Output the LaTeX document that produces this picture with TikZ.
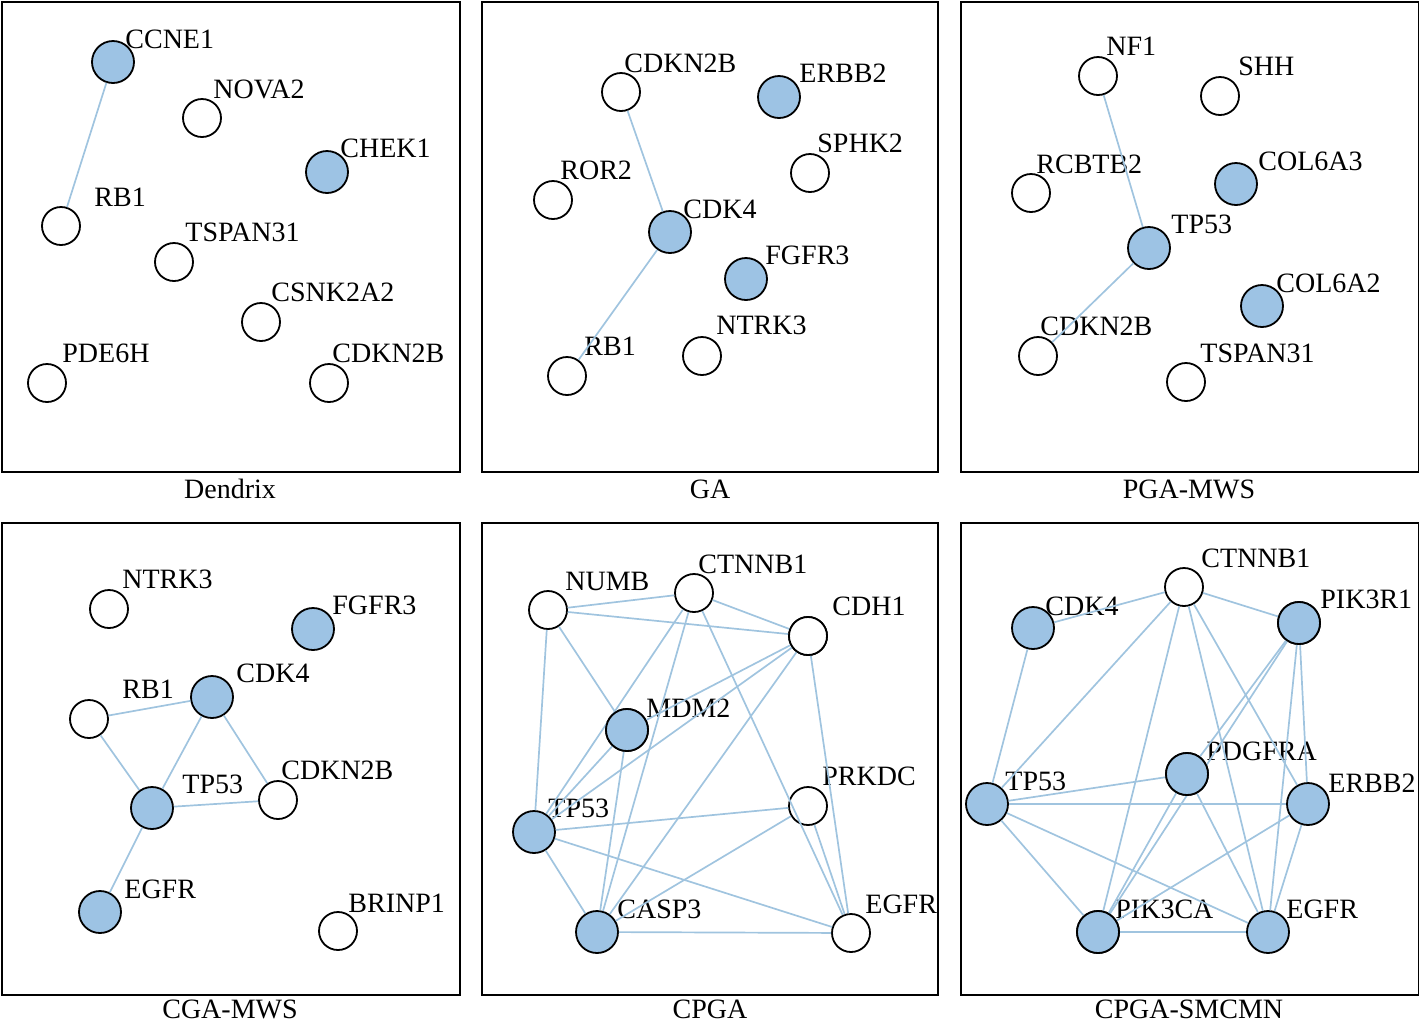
\documentclass[tikz,border=0pt]{standalone}
\usepackage{fontspec}
\setmainfont{Liberation Serif}
\definecolor{nfill}{RGB}{157,195,228}
\definecolor{ecol}{RGB}{160,196,223}
\tikzset{
 gw/.style={circle,draw=black,line width=0.9pt,fill=white,minimum size=19pt,inner sep=0pt},
 gb/.style={gw,fill=nfill,minimum size=21pt},
 lab/.style={anchor=base west,inner sep=0pt,font=\fontsize{14pt}{16pt}\selectfont},
 ttl/.style={anchor=base,inner sep=0pt,font=\fontsize{14pt}{16pt}\selectfont},
 panel/.style={draw=black,line width=1pt},
 edge/.style={draw=ecol,line width=0.85pt}
}
\newcommand\gn[7]{\node[#4] (#1) at (#2,#3) {};\node[lab] (#1l) at (#5,#6) {#7};}
\begin{document}
\begin{tikzpicture}[x=0.5pt,y=-0.5pt]
\useasboundingbox (0,0) rectangle (1419,1024);
% frames
\node[panel,draw,minimum width=229pt,minimum height=235pt,inner sep=0pt,anchor=north west] (f1) at (1,1) {};
\node[panel,draw,minimum width=228pt,minimum height=235pt,inner sep=0pt,anchor=north west] (f2) at (481,1) {};
\node[panel,draw,minimum width=229pt,minimum height=235pt,inner sep=0pt,anchor=north west] (f3) at (960,1) {};
\node[panel,draw,minimum width=229pt,minimum height=236pt,inner sep=0pt,anchor=north west] (f4) at (1,522) {};
\node[panel,draw,minimum width=228pt,minimum height=236pt,inner sep=0pt,anchor=north west] (f5) at (481,522) {};
\node[panel,draw,minimum width=229pt,minimum height=236pt,inner sep=0pt,anchor=north west] (f6) at (960,522) {};
\node[ttl] (t1) at (230,498) {Dendrix};
\node[ttl] (t2) at (710,498) {GA};
\node[ttl] (t3) at (1189,498) {PGA-MWS};
\node[ttl] (t4) at (230,1018) {CGA-MWS};
\node[ttl] (t5) at (710,1018) {CPGA};
\node[ttl] (t6) at (1189,1018) {CPGA-SMCMN};
% Panel 1: Dendrix
\gn{aCCNE1}{113}{62}{gb}{125}{48}{CCNE1}
\gn{aNOVA2}{202}{118}{gw}{213}{98}{NOVA2}
\gn{aCHEK1}{327}{172}{gb}{340}{157}{CHEK1}
\gn{aRB1}{61}{226}{gw}{94}{206}{RB1}
\gn{aTSPAN31}{174}{262}{gw}{185}{241}{TSPAN31}
\gn{aCSNK2A2}{261}{322}{gw}{271}{301}{CSNK2A2}
\gn{aPDE6H}{47}{383}{gw}{62}{362}{PDE6H}
\gn{aCDKN2B}{329}{383}{gw}{332}{362}{CDKN2B}
% Panel 2: GA
\gn{bCDKN2B}{621}{92}{gw}{624}{72}{CDKN2B}
\gn{bERBB2}{779}{97}{gb}{799}{82}{ERBB2}
\gn{bSPHK2}{810}{173}{gw}{817}{152}{SPHK2}
\gn{bROR2}{553}{200}{gw}{560}{179}{ROR2}
\gn{bCDK4}{670}{232}{gb}{683}{218}{CDK4}
\gn{bFGFR3}{746}{279}{gb}{765}{264}{FGFR3}
\gn{bNTRK3}{702}{356}{gw}{716}{334}{NTRK3}
\gn{bRB1}{567}{376}{gw}{584}{355}{RB1}
% Panel 3: PGA-MWS
\gn{cNF1}{1098}{76}{gw}{1106}{55}{NF1}
\gn{cSHH}{1220}{96}{gw}{1238}{75}{SHH}
\gn{cRCBTB2}{1031}{193}{gw}{1036}{173}{RCBTB2}
\gn{cCOL6A3}{1236}{184}{gb}{1258}{170}{COL6A3}
\gn{cTP53}{1149}{248}{gb}{1171}{233}{TP53}
\gn{cCOL6A2}{1262}{306}{gb}{1276}{292}{COL6A2}
\gn{cCDKN2B}{1038}{356}{gw}{1040}{335}{CDKN2B}
\gn{cTSPAN31}{1186}{382}{gw}{1200}{362}{TSPAN31}
% Panel 4: CGA-MWS
\gn{dNTRK3}{109}{609}{gw}{122}{588}{NTRK3}
\gn{dFGFR3}{313}{629}{gb}{332}{614}{FGFR3}
\gn{dCDK4}{212}{697}{gb}{236}{682}{CDK4}
\gn{dRB1}{89}{719}{gw}{122}{698}{RB1}
\gn{dCDKN2B}{278}{800}{gw}{281}{779}{CDKN2B}
\gn{dTP53}{152}{808}{gb}{182}{793}{TP53}
\gn{dEGFR}{100}{912}{gb}{124}{898}{EGFR}
\gn{dBRINP1}{338}{931}{gw}{348}{912}{BRINP1}
% Panel 5: CPGA
\gn{eNUMB}{548}{610}{gw}{565}{590}{NUMB}
\gn{eCTNNB1}{694}{593}{gw}{698}{573}{CTNNB1}
\gn{eCDH1}{808}{636}{gw}{832}{615}{CDH1}
\gn{eMDM2}{627}{730}{gb}{646}{717}{MDM2}
\gn{eTP53}{534}{832}{gb}{548}{817}{TP53}
\gn{ePRKDC}{808}{806}{gw}{822}{785}{PRKDC}
\gn{eCASP3}{597}{932}{gb}{617}{918}{CASP3}
\gn{eEGFR}{851}{933}{gw}{865}{913}{EGFR}
% Panel 6: CPGA-SMCMN
\gn{fCTNNB1}{1184}{587}{gw}{1201}{567}{CTNNB1}
\gn{fCDK4}{1033}{628}{gb}{1045}{615}{CDK4}
\gn{fPIK3R1}{1299}{623}{gb}{1320}{608}{PIK3R1}
\gn{fPDGFRA}{1187}{774}{gb}{1206}{760}{PDGFRA}
\gn{fTP53}{987}{804}{gb}{1005}{790}{TP53}
\gn{fERBB2}{1308}{804}{gb}{1328}{792}{ERBB2}
\gn{fPIK3CA}{1098}{932}{gb}{1115}{918}{PIK3CA}
\gn{fEGFR}{1268}{932}{gb}{1286}{918}{EGFR}
% edges
\begin{scope}[edge]
\draw (aCCNE1) -- (aRB1);
\draw (bCDKN2B) -- (bCDK4);
\draw (bCDK4) -- (bRB1);
\draw (cNF1) -- (cTP53);
\draw (cTP53) -- (cCDKN2B);
\draw (dRB1) -- (dCDK4);
\draw (dRB1) -- (dTP53);
\draw (dCDK4) -- (dTP53);
\draw (dCDK4) -- (dCDKN2B);
\draw (dTP53) -- (dCDKN2B);
\draw (dTP53) -- (dEGFR);
\draw (eNUMB) -- (eCTNNB1);
\draw (eNUMB) -- (eCDH1);
\draw (eNUMB) -- (eTP53);
\draw (eNUMB) -- (eMDM2);
\draw (eCTNNB1) -- (eCDH1);
\draw (eCTNNB1) -- (eTP53);
\draw (eCTNNB1) -- (eCASP3);
\draw (eCTNNB1) -- (eEGFR);
\draw (eCDH1) -- (eMDM2);
\draw (eCDH1.center) -- (eTP53);
\draw (eCDH1) -- (eCASP3);
\draw (eCDH1) -- (eEGFR);
\draw (eMDM2) -- (eTP53);
\draw (eMDM2) -- (eCASP3);
\draw (eTP53) -- (ePRKDC);
\draw (eTP53) -- (eEGFR);
\draw (eTP53) -- (eCASP3);
\draw (ePRKDC) -- (eCASP3);
\draw (ePRKDC) -- (eEGFR);
\draw (eCASP3) -- (eEGFR);
\draw (fCTNNB1) -- (fCDK4);
\draw (fCTNNB1) -- (fPIK3R1);
\draw (fCTNNB1) -- (fTP53);
\draw (fCTNNB1) -- (fPIK3CA);
\draw (fCTNNB1) -- (fEGFR);
\draw (fCTNNB1) -- (fERBB2);
\draw (fCDK4) -- (fTP53);
\draw (fPIK3R1) -- (fPDGFRA);
\draw (fPIK3R1) -- (fERBB2);
\draw (fPIK3R1) -- (fEGFR);
\draw (fPIK3R1.center) -- (fPIK3CA.center);
\draw (fTP53) -- (fPDGFRA);
\draw (fTP53) -- (fERBB2);
\draw (fTP53) -- (fPIK3CA);
\draw (fTP53) -- (fEGFR);
\draw (fPDGFRA) -- (fPIK3CA);
\draw (fPDGFRA) -- (fEGFR);
\draw (fERBB2) -- (fPIK3CA);
\draw (fERBB2) -- (fEGFR);
\draw (fPIK3CA) -- (fEGFR);
\end{scope}
% redraw nodes that have center-drawn edges on top
\node[gb] (eMDM2top) at (eMDM2) {};
\node[gw] (eCDH1top) at (eCDH1) {};
\node[gb] (fPDGFRAtop) at (fPDGFRA) {};
\node[gb] (fPIK3R1top) at (fPIK3R1) {};
\node[gb] (fPIK3CAtop) at (fPIK3CA) {};
\end{tikzpicture}
\end{document}
